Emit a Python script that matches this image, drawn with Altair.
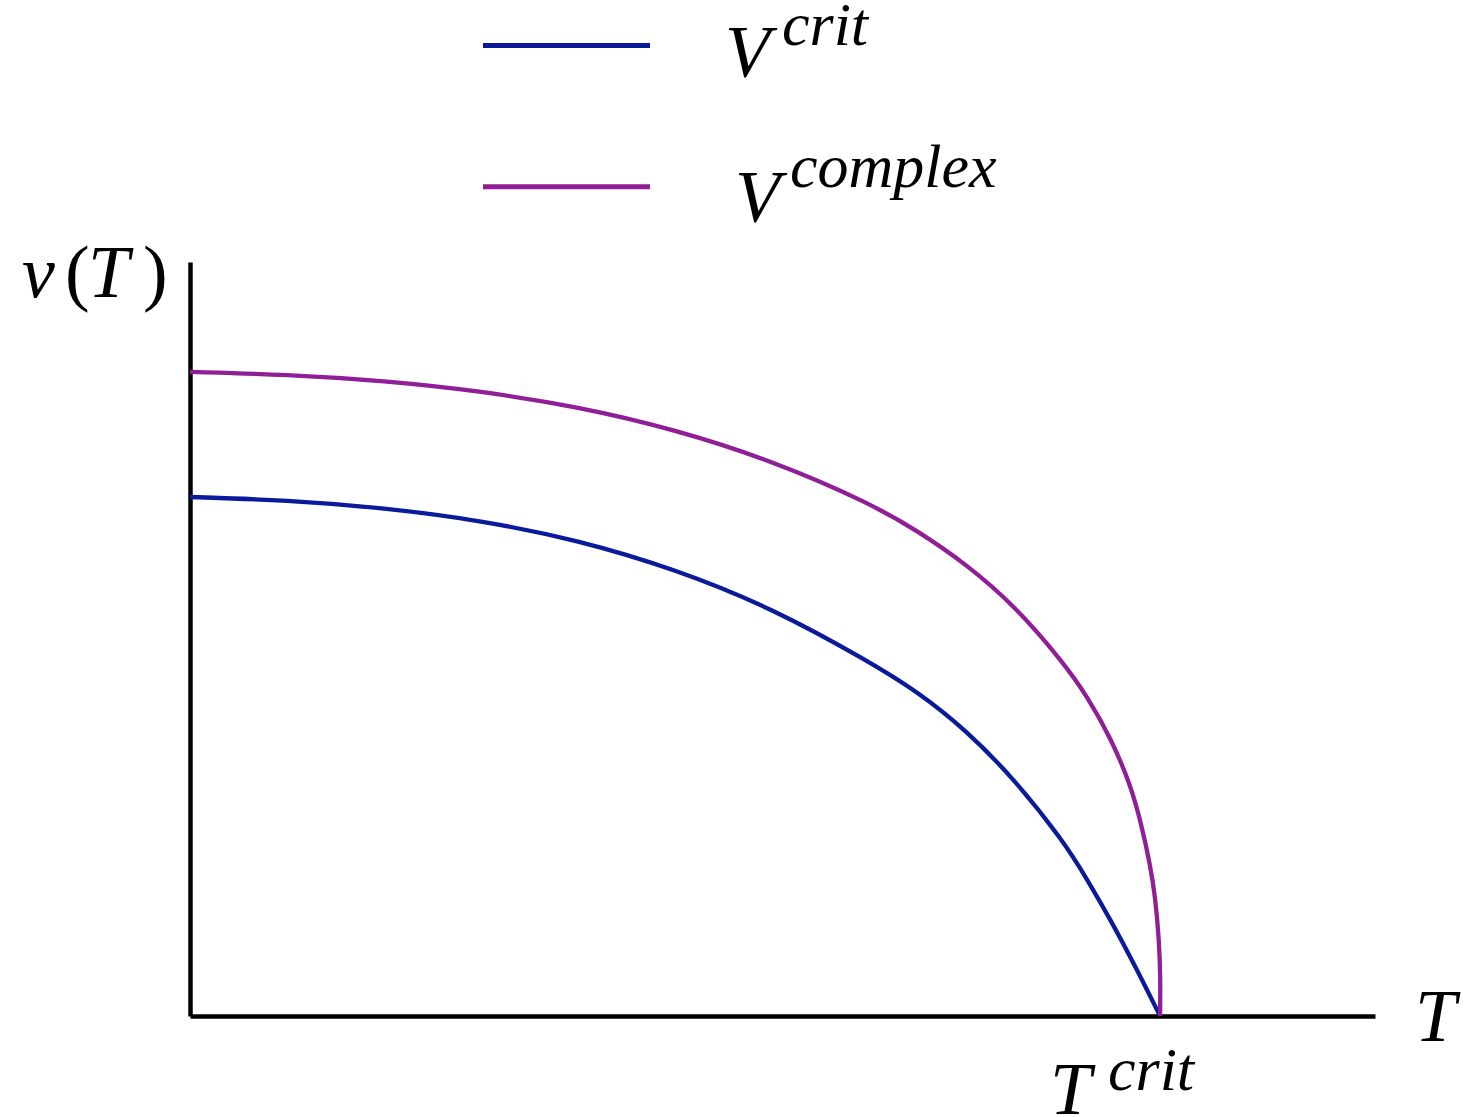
import altair as alt
import pandas as pd

# Order-parameter curves v(T), temperature in units of T_crit
t_crit_curve = [0.0, 0.1, 0.2, 0.3, 0.4, 0.5, 0.6, 0.7, 0.75, 0.8, 0.85,
                0.9, 0.925, 0.95, 0.975, 1.0]
v_crit_curve = [1.0, 0.994, 0.979, 0.955, 0.917, 0.861, 0.786, 0.683, 0.625,
                0.551, 0.456, 0.338, 0.263, 0.182, 0.094, 0.0]

t_complex_curve = [0.0, 0.1, 0.2, 0.3, 0.4, 0.5, 0.6, 0.7, 0.75, 0.8, 0.85,
                   0.9, 0.925, 0.95, 0.97, 0.98, 0.99, 0.995, 0.999, 1.0005, 1.0]
v_complex_curve = [1.241, 1.236, 1.224, 1.204, 1.174, 1.130, 1.070, 0.989, 0.935,
                   0.871, 0.791, 0.682, 0.616, 0.533, 0.443, 0.375, 0.29, 0.23,
                   0.148, 0.07, 0.0]

series_names = ["crit", "complex"]
series_colors = ["#0a1a9a", "#901e96"]

T_MAX = 1.2216
V_MAX = 1.4528

SERIF = "Liberation Serif"
BIG = 74
SUP = 62

rows = []
for name, ts, vs in [("crit", t_crit_curve, v_crit_curve),
                     ("complex", t_complex_curve, v_complex_curve)]:
    for i, (t, v) in enumerate(zip(ts, vs)):
        rows.append({"series": name, "T": t, "v": v, "idx": i})
curves = pd.DataFrame(rows)

x_scale = alt.Scale(domain=[0, T_MAX], nice=False, zero=False)
y_scale = alt.Scale(domain=[0, V_MAX], nice=False, zero=False)
bare_axis = dict(labels=False, ticks=False, title=None, grid=False,
                 domainColor="black", domainWidth=4.5)
color_scale = alt.Scale(domain=series_names, range=series_colors)

lines = alt.Chart(curves).mark_line(strokeWidth=4.3, interpolate="basis").encode(
    x=alt.X("T:Q", scale=x_scale, axis=alt.Axis(**bare_axis)),
    y=alt.Y("v:Q", scale=y_scale, axis=alt.Axis(**bare_axis)),
    color=alt.Color("series:N", scale=color_scale, legend=None),
    order="idx:Q",
    detail="series:N",
)


def label(s, x, y, size, italic=True):
    return alt.Chart(pd.DataFrame({"s": [s]})).mark_text(
        align="left", baseline="alphabetic", font=SERIF, fontSize=size,
        fontStyle="italic" if italic else "normal", color="black",
    ).encode(x=alt.value(x), y=alt.value(y), text="s:N")


def legend_line(name, y):
    return alt.Chart(pd.DataFrame({"series": [name]})).mark_rule(strokeWidth=5).encode(
        x=alt.value(293), x2=alt.value(460), y=alt.value(y),
        color=alt.Color("series:N", scale=color_scale, legend=None),
    )


texts = [
    # legend entries
    label("V", 535, -185, BIG), label("crit", 592, -217, SUP),
    label("V", 545, -40, BIG), label("complex", 600, -75, SUP),
    # axis titles
    label("v", -168, 35, BIG), label("(", -125, 35, BIG, italic=False),
    label("T", -102, 35, BIG), label(")", -47, 35, BIG, italic=False),
    label("T", 1225, 779, BIG),
    # critical temperature marker
    label("T", 860, 852, BIG), label("crit", 918, 828, SUP),
]

chart = alt.layer(
    lines,
    legend_line("crit", -216.5),
    legend_line("complex", -75.3),
    *texts,
).properties(
    width=1185, height=754,
    autosize=alt.AutoSizeParams(type="none"),
    padding={"left": 190, "top": 262, "right": 106, "bottom": 101},
    background="white",
).configure_view(stroke=None)

chart.save("out.html", embed_options={"renderer": "svg", "actions": False})
